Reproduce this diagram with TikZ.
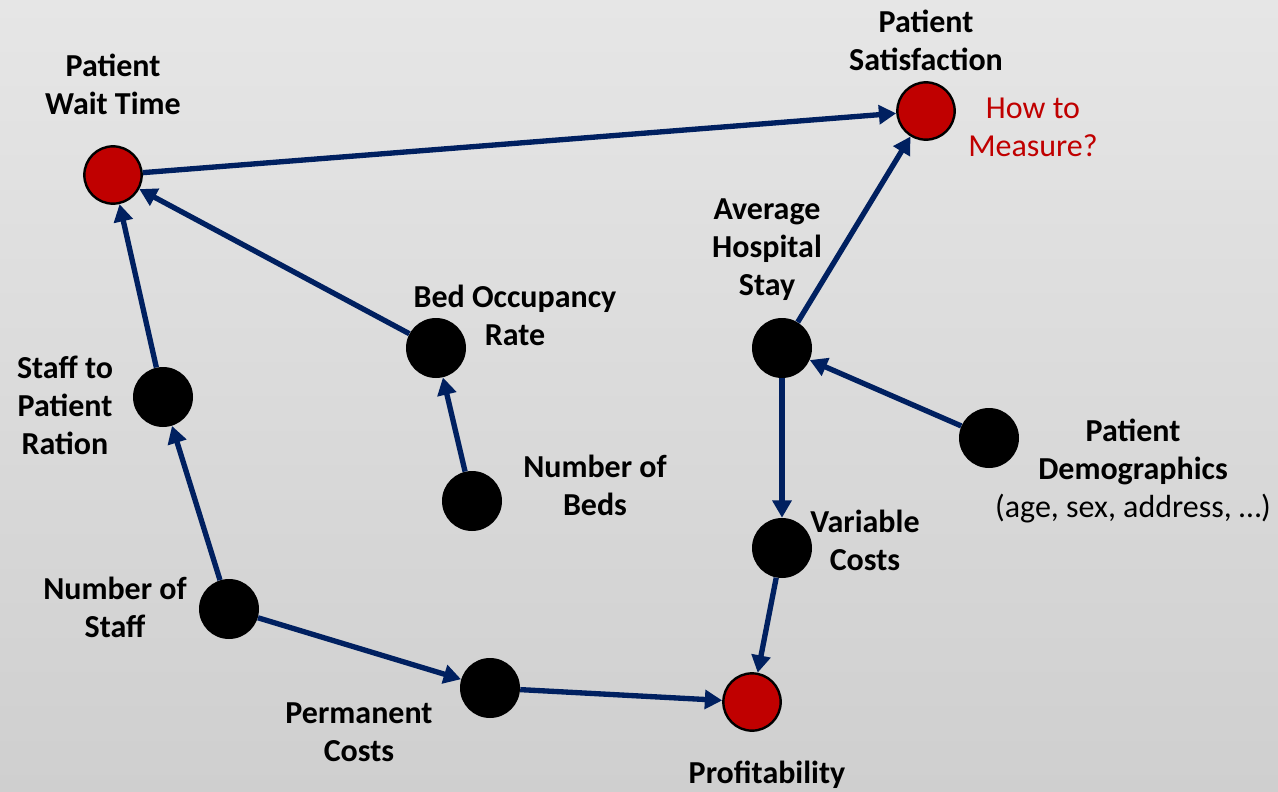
\documentclass[tikz,border=0pt]{standalone}
\usepackage{fontspec}
\setmainfont{Carlito}
\usetikzlibrary{arrows.meta}
\definecolor{navy}{HTML}{002060}
\definecolor{dred}{HTML}{C00000}
\begin{document}
\begin{tikzpicture}[x=0.75pt,y=-0.75pt,
  blk/.style={circle,fill=black,minimum size=45pt,inner sep=0pt},
  rednode/.style={circle,fill=dred,draw=black,line width=1.8pt,minimum size=43pt,inner sep=0pt},
  lbl/.style={align=center,inner sep=0pt,font=\fontsize{24}{28.5}\selectfont\bfseries},
  conn/.style={draw=navy,line width=4pt,-{Triangle[length=13pt,width=14pt]},shorten >=0pt}]
\shade[top color={rgb,255:red,230;green,230;blue,230},bottom color={rgb,255:red,207;green,207;blue,207}] (0,0) rectangle (1278,792);
\useasboundingbox (0,0) rectangle (1278,792);
% nodes
\node[rednode] (wait) at (113,175) {};
\node[rednode] (sat) at (926,111) {};
\node[blk] (bed) at (436,348) {};
\node[blk] (ratio) at (163,397) {};
\node[blk] (beds) at (472,501) {};
\node[blk] (stay) at (782,348) {};
\node[blk] (demo) at (989,438) {};
\node[blk] (var) at (782,548) {};
\node[blk] (staff) at (229,609) {};
\node[blk] (perm) at (490,688) {};
\node[rednode] (prof) at (752,702) {};
% labels
\node[lbl] (lwait) at (113,84) {Patient\\Wait Time};
\node[lbl] (lsat) at (926,40) {Patient\\Satisfaction};
\node[lbl,font=\fontsize{24}{28.5}\selectfont,text=dred] (lhow) at (1033,127) {How to\\Measure?};
\node[lbl] (lstay) at (767,250) {Average\\Hospital\\Stay};
\node[lbl] (lbed) at (515,315) {Bed Occupancy\\Rate};
\node[lbl] (lratio) at (65,405) {Staff to\\Patient\\Ration};
\node[lbl] (lbeds) at (595,485) {Number of\\Beds};
\node[lbl] (ldemo) at (1133,471) {Patient\\Demographics\\{\mdseries (age, sex, address, …)}};
\node[lbl] (lvar) at (865,540) {Variable\\Costs};
\node[lbl] (lstaff) at (115,607) {Number of\\Staff};
\node[lbl] (lperm) at (359,732) {Permanent\\Costs};
\node[lbl] (lprof) at (767,775) {Profitability};
% connectors
\draw[conn] (wait) -- (sat);
\draw[conn] (bed) -- (wait);
\draw[conn] (ratio) -- (wait);
\draw[conn] (beds) -- (bed);
\draw[conn] (staff) -- (ratio);
\draw[conn] (staff) -- (perm);
\draw[conn] (perm) -- (prof);
\draw[conn] (var) -- (prof);
\draw[conn] (stay) -- (var);
\draw[conn] (stay) -- (sat);
\draw[conn] (demo) -- (stay);
\end{tikzpicture}
\end{document}
